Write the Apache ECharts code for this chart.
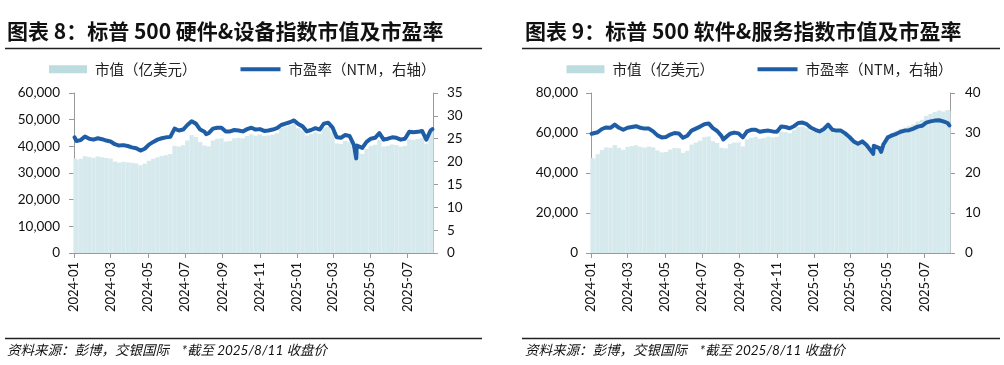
<!DOCTYPE html>
<html><head><meta charset="utf-8">
<script src="https://cdn.jsdelivr.net/npm/echarts@6/dist/echarts.min.js"></script>
<style>html,body{margin:0;padding:0;background:#fff;}#c{width:1004px;height:365px;}</style>
</head><body><div id="c"></div>
<script>
// ---------- DATA ----------
const dates = [
 '2024-01-02','2024-01-05','2024-01-12','2024-01-19','2024-01-26',
 '2024-02-02','2024-02-09','2024-02-16','2024-02-23',
 '2024-03-01','2024-03-08','2024-03-15','2024-03-22','2024-03-29',
 '2024-04-05','2024-04-12','2024-04-19','2024-04-26',
 '2024-05-03','2024-05-10','2024-05-17','2024-05-24','2024-05-31',
 '2024-06-07','2024-06-14','2024-06-21','2024-06-28',
 '2024-07-05','2024-07-12','2024-07-19','2024-07-26',
 '2024-08-02','2024-08-05','2024-08-09','2024-08-16','2024-08-23','2024-08-30',
 '2024-09-06','2024-09-13','2024-09-20','2024-09-27',
 '2024-10-04','2024-10-11','2024-10-18','2024-10-25',
 '2024-11-01','2024-11-08','2024-11-15','2024-11-22','2024-11-29',
 '2024-12-06','2024-12-13','2024-12-20','2024-12-27',
 '2025-01-03','2025-01-10','2025-01-17','2025-01-24','2025-01-31',
 '2025-02-07','2025-02-14','2025-02-21','2025-02-28',
 '2025-03-07','2025-03-14','2025-03-21','2025-03-28',
 '2025-04-04','2025-04-07','2025-04-08','2025-04-09','2025-04-11','2025-04-18','2025-04-21','2025-04-25',
 '2025-05-02','2025-05-09','2025-05-16','2025-05-23','2025-05-30',
 '2025-06-06','2025-06-13','2025-06-20','2025-06-27',
 '2025-07-04','2025-07-11','2025-07-18','2025-07-25',
 '2025-08-01','2025-08-08','2025-08-11'
];
const tickLabels = ['2024-01','2024-03','2024-05','2024-07','2024-09','2024-11','2025-01','2025-03','2025-05','2025-07'];

// Chart 8: S&P 500 hardware & equipment
const hwPE = [
 25.3,24.5,24.7,25.5,25.0,
 24.8,25.1,24.9,24.6,
 24.4,23.8,23.5,23.6,23.4,
 23.1,22.9,22.4,22.8,
 23.7,24.3,24.8,25.1,25.3,
 25.4,27.2,26.8,27.0,
 28.0,28.8,28.3,27.0,
 26.5,26.0,26.2,27.2,27.4,27.4,
 26.6,26.6,26.9,26.8,
 26.6,27.1,27.4,27.0,
 27.1,26.7,26.8,27.0,27.3,
 28.0,28.3,28.6,29.0,
 28.2,27.7,26.6,26.9,27.3,
 27.0,28.3,28.5,27.5,
 25.3,25.2,25.8,25.6,
 23.7,21.5,20.7,23.5,23.3,23.0,22.8,24.3,
 25.0,25.2,26.2,24.8,25.0,
 25.3,25.2,24.8,25.0,
 26.5,26.4,26.5,26.7,
 24.8,26.8,27.1
];
const hwCap = [
 35500,35000,35300,36300,36000,
 35700,36200,35900,35600,
 35400,34300,33900,34200,34000,
 33800,33600,32900,33500,
 34600,35300,35900,36400,36700,
 37100,40200,39900,40400,
 42200,44200,43500,41600,
 40300,39500,40000,42200,42800,43000,
 41800,42000,43000,43200,
 43000,43900,44500,44000,
 44500,43900,44100,44400,44900,
 46900,47400,47900,48800,
 46800,46000,44100,44600,45300,
 44800,47000,47300,45300,
 41100,40900,42000,41600,
 38400,35200,34500,38000,37700,37200,36800,39000,
 40200,40600,42300,39900,40200,
 40700,40500,39900,40200,
 42600,42400,42800,43100,
 41000,45000,46000
];

// Chart 9: S&P 500 software & services
const swPE = [
 29.8,29.3,30.2,31.0,31.4,
 31.3,32.1,31.3,30.8,
 31.3,31.5,31.7,31.3,31.1,
 31.1,30.4,29.4,28.9,
 29.0,29.6,30.0,29.9,28.8,
 29.3,30.6,31.1,31.6,
 32.2,32.4,31.2,30.5,
 29.3,28.4,28.9,29.8,30.1,29.9,
 28.9,30.4,30.8,30.8,
 30.3,30.5,30.6,30.4,
 30.3,31.6,31.5,31.2,31.7,
 32.5,32.6,32.2,31.3,
 30.8,30.4,31.0,32.1,30.8,
 30.6,30.6,29.9,29.0,
 27.9,27.3,27.9,27.0,
 25.6,25.2,24.8,26.8,26.5,26.2,25.3,27.2,
 28.9,29.4,29.8,30.3,30.6,
 30.7,31.1,31.6,31.8,
 32.6,32.9,33.1,33.2,
 32.9,32.5,31.9
];
const swCap = [
 47600,47100,49400,51500,52800,
 52600,54000,52600,51600,
 53100,53500,53900,53100,52700,
 53200,52800,51300,50300,
 50500,51700,52500,52300,50100,
 51100,54200,55200,56200,
 57900,58300,55900,55000,
 52600,50800,52300,54600,55200,55300,
 53300,56800,57600,58100,
 57100,57500,58200,57800,
 58100,60700,60500,59900,61400,
 63000,63200,62400,61100,
 60600,59800,61000,63200,61100,
 60700,60700,59300,58000,
 55800,54600,55800,54000,
 51700,50900,50100,54100,53500,52900,51100,55400,
 58800,60300,61100,62100,62700,
 63400,64200,65700,66600,
 68500,69500,70500,71300,
 70800,71500,71000
];

const capName = '市值（亿美元）';
const peName = '市盈率（NTM，右轴）';
const titles = ['图表 8：标普 500 硬件&设备指数市值及市盈率', '图表 9：标普 500 软件&服务指数市值及市盈率'];
const footnote = '资料来源：彭博，交银国际    *截至 2025/8/11 收盘价';

// ---------- STYLE ----------
const FONT_LATIN = 'Lato, "Noto Sans CJK SC", sans-serif';
const FONT_CJK = '"Noto Sans CJK SC", sans-serif';
const AXIS = '#9a9a9a';
const BAR = '#d6e9ec';
const SWATCH = '#bddce0';
const LINE = '#1f5ea6';

function ts(s) { const p = s.split('-').map(Number); return Date.UTC(p[0], p[1] - 1, p[2] || 1); }
const tickVals = tickLabels.map(ts);
const xMin = ts('2024-01-01'), xMax = ts('2025-08-12');

const panels = [
  { left: 74, cap: hwCap, pe: hwPE, capMax: 60000, capInt: 10000, peMax: 35, peInt: 5, capMargin: 14, peMargin: 14,
    titleX: 7, lineX1: 5, lineX2: 482, legX: [49, 240.5] },
  { left: 591, cap: swCap, pe: swPE, capMax: 80000, capInt: 20000, peMax: 40, peInt: 10, capMargin: 13, peMargin: 15,
    titleX: 525, lineX1: 522, lineX2: 1000, legX: [566.5, 757.5] }
];

const grid = [], xAxis = [], yAxis = [], series = [], legend = [], graphic = [];
const labelFmt = v => { let best = 0; tickVals.forEach((t, i) => { if (Math.abs(t - v) < Math.abs(tickVals[best] - v)) best = i; }); return tickLabels[best]; };

panels.forEach((p, i) => {
  grid.push({ left: p.left, top: 93, width: 359, height: 160 });
  xAxis.push({
    type: 'value', gridIndex: i, min: xMin, max: xMax, scale: true,
    axisLine: { show: true, onZero: false, lineStyle: { color: AXIS, width: 1 } },
    axisTick: { show: true, customValues: tickVals, length: 5, lineStyle: { color: AXIS } },
    axisLabel: { customValues: tickVals, rotate: 90, margin: 9, color: '#111', fontSize: 13, fontFamily: FONT_LATIN, formatter: labelFmt },
    splitLine: { show: false }
  });
  yAxis.push({
    type: 'value', gridIndex: i, position: 'left', min: 0, max: p.capMax, interval: p.capInt,
    axisLine: { show: true, lineStyle: { color: AXIS, width: 1 } },
    axisTick: { show: true, length: 5, lineStyle: { color: AXIS } },
    splitLine: { show: false },
    axisLabel: { margin: p.capMargin, color: '#111', fontSize: 13.5, fontFamily: FONT_LATIN, formatter: v => v.toLocaleString('en-US') }
  });
  yAxis.push({
    type: 'value', gridIndex: i, position: 'right', min: 0, max: p.peMax, interval: p.peInt,
    axisLine: { show: true, lineStyle: { color: AXIS, width: 1 } },
    axisTick: { show: true, length: 5, lineStyle: { color: AXIS } },
    splitLine: { show: false },
    axisLabel: { margin: p.peMargin, color: '#111', fontSize: 13.5, fontFamily: FONT_LATIN }
  });
  series.push({
    type: 'bar', name: capName, xAxisIndex: i, yAxisIndex: 2 * i,
    data: dates.map((d, k) => [ts(d), p.cap[k]]), barWidth: 4.3,
    itemStyle: { color: BAR }, silent: true, z: 2
  });
  series.push({
    type: 'line', name: peName, xAxisIndex: i, yAxisIndex: 2 * i + 1,
    data: dates.map((d, k) => [ts(d), p.pe[k]]), showSymbol: false, symbol: 'none',
    lineStyle: { width: 4, color: LINE, join: 'round', cap: 'round' }, itemStyle: { color: LINE }, silent: true, z: 3
  });
  const legText = { fontSize: 14.5, fontFamily: FONT_CJK, color: '#222', padding: [0, 0, 0, 3] };
  legend.push({ left: p.legX[0], top: 62, padding: 0, selectedMode: false, icon: 'rect', itemWidth: 38, itemHeight: 8,
    data: [{ name: capName, itemStyle: { color: SWATCH } }], textStyle: legText });
  legend.push({ left: p.legX[1], top: 62, padding: 0, selectedMode: false, icon: 'rect', itemWidth: 40, itemHeight: 4,
    data: [{ name: peName, itemStyle: { color: LINE } }], textStyle: legText });
  graphic.push({ type: 'text', x: p.titleX, y: 31, style: { text: titles[i], fontSize: 21, fontWeight: 'bold', fontFamily: FONT_CJK, fill: '#111', verticalAlign: 'middle' } });
  graphic.push({ type: 'line', shape: { x1: p.lineX1, y1: 48.5, x2: p.lineX2, y2: 48.5 }, style: { stroke: '#222', lineWidth: 1.5 } });
  graphic.push({ type: 'line', shape: { x1: p.lineX1, y1: 338.5, x2: p.lineX2, y2: 338.5 }, style: { stroke: '#222', lineWidth: 1.5 } });
  graphic.push({ type: 'text', x: p.titleX, y: 350.5, style: { text: footnote, fontSize: 13.5, fontStyle: 'italic', fontFamily: FONT_LATIN, fill: '#111', verticalAlign: 'middle' } });
});

const chart = echarts.init(document.getElementById('c'), null, { renderer: 'canvas' });
chart.setOption({ animation: false, backgroundColor: '#fff', grid, xAxis, yAxis, series, legend, graphic, tooltip: { show: false } });
</script></body></html>
